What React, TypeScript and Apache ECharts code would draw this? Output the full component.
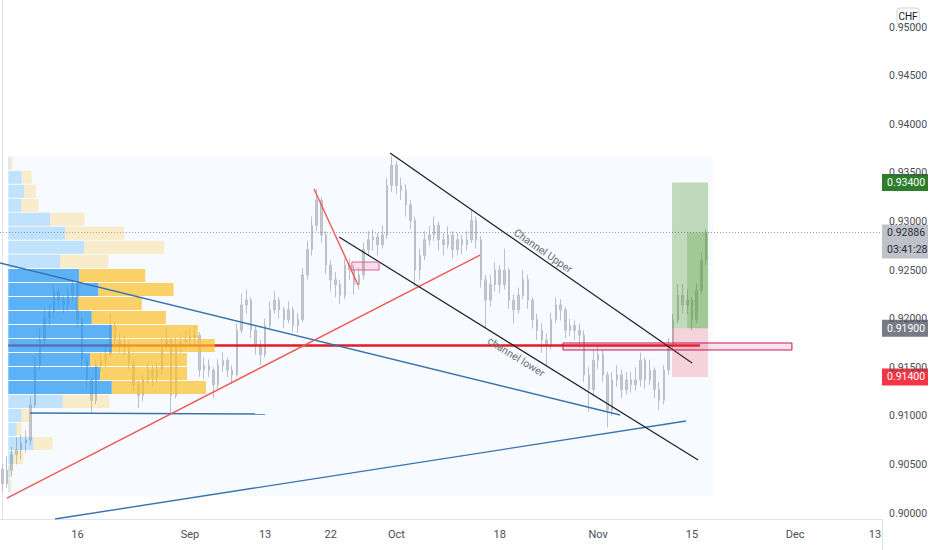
import React, { useEffect, useRef } from "react";
import * as echarts from "echarts";

// ---------- data ----------
const slotCount = 188; // half-day slots across the visible time range
const xTickSlots = [16, 40, 56, 70, 84, 106, 127, 147, 169, 186];
const xTickLabels = ["16", "Sep", "13", "22", "Oct", "18", "Nov", "15", "Dec", "13"];

// [open, close, low, high]
const ohlc: number[][] = [
  [0.9045, 0.903, 0.9021, 0.905], [0.903, 0.9044, 0.9026, 0.9058], [0.9044, 0.906, 0.9038, 0.9068],
  [0.906, 0.9065, 0.905, 0.9078], [0.9065, 0.9072, 0.9055, 0.908], [0.9072, 0.9075, 0.9062, 0.9085],
  [0.9075, 0.9111, 0.907, 0.912], [0.9111, 0.9152, 0.9108, 0.916], [0.9152, 0.9178, 0.9148, 0.919],
  [0.9178, 0.9201, 0.9172, 0.921], [0.9201, 0.9207, 0.9192, 0.9215], [0.9207, 0.9227, 0.92, 0.9235],
  [0.9227, 0.9219, 0.921, 0.9232], [0.9219, 0.9214, 0.9205, 0.9224], [0.9214, 0.9224, 0.9208, 0.9232],
  [0.9224, 0.9235, 0.9218, 0.924], [0.9235, 0.9199, 0.919, 0.9238], [0.9199, 0.9157, 0.915, 0.9202],
  [0.9157, 0.9137, 0.9128, 0.9162], [0.9137, 0.9116, 0.9103, 0.914], [0.9116, 0.9152, 0.9112, 0.9158],
  [0.9152, 0.9157, 0.9145, 0.9165], [0.9157, 0.9163, 0.915, 0.9172], [0.9163, 0.9193, 0.916, 0.9205],
  [0.9193, 0.9178, 0.917, 0.9196], [0.9178, 0.9173, 0.9165, 0.9185], [0.9173, 0.917, 0.9163, 0.9182],
  [0.917, 0.9155, 0.9148, 0.9176], [0.9155, 0.9132, 0.9125, 0.9158], [0.9132, 0.9121, 0.9108, 0.9136],
  [0.9121, 0.9137, 0.9115, 0.9142], [0.9137, 0.9147, 0.9132, 0.9155], [0.9147, 0.9139, 0.913, 0.9152],
  [0.9139, 0.9147, 0.9135, 0.9155], [0.9147, 0.9173, 0.9142, 0.918], [0.9173, 0.9178, 0.9168, 0.919],
  [0.9178, 0.9121, 0.9103, 0.918], [0.9121, 0.9173, 0.9118, 0.918], [0.9173, 0.9176, 0.9165, 0.9183],
  [0.9176, 0.9178, 0.9168, 0.9188], [0.9178, 0.9181, 0.917, 0.919], [0.9181, 0.9183, 0.9172, 0.9193],
  [0.9183, 0.9147, 0.914, 0.9186], [0.9147, 0.9152, 0.9138, 0.916], [0.9152, 0.9147, 0.914, 0.9158],
  [0.9147, 0.9132, 0.9118, 0.915], [0.9132, 0.9152, 0.9128, 0.9158], [0.9152, 0.9157, 0.9145, 0.9166],
  [0.9157, 0.9147, 0.914, 0.916], [0.9147, 0.9142, 0.9133, 0.9152], [0.9142, 0.9188, 0.914, 0.9195],
  [0.9188, 0.9214, 0.9185, 0.9226], [0.9214, 0.9219, 0.9205, 0.923], [0.9219, 0.9188, 0.918, 0.9222],
  [0.9188, 0.9173, 0.9163, 0.9192], [0.9173, 0.9163, 0.9152, 0.9178], [0.9163, 0.9193, 0.916, 0.92],
  [0.9193, 0.9209, 0.919, 0.9218], [0.9209, 0.9219, 0.9205, 0.9228], [0.9219, 0.9209, 0.92, 0.9222],
  [0.9209, 0.9199, 0.919, 0.9212], [0.9199, 0.9209, 0.9195, 0.9218], [0.9209, 0.9193, 0.9186, 0.9212],
  [0.9193, 0.9199, 0.9185, 0.9206], [0.9199, 0.9245, 0.9196, 0.9252], [0.9245, 0.9271, 0.924, 0.928],
  [0.9271, 0.9296, 0.9265, 0.9305], [0.9296, 0.9322, 0.929, 0.9333], [0.9322, 0.9286, 0.9278, 0.9325],
  [0.9286, 0.9255, 0.9246, 0.929], [0.9255, 0.924, 0.9228, 0.926], [0.924, 0.9235, 0.9222, 0.9248],
  [0.9235, 0.9224, 0.9215, 0.924], [0.9224, 0.9255, 0.922, 0.9262], [0.9255, 0.925, 0.924, 0.9262],
  [0.925, 0.9235, 0.9225, 0.9255], [0.9235, 0.9245, 0.923, 0.9252], [0.9245, 0.9271, 0.924, 0.9278],
  [0.9271, 0.9281, 0.9265, 0.929], [0.9281, 0.9284, 0.927, 0.9292], [0.9284, 0.9276, 0.9265, 0.9288],
  [0.9276, 0.9286, 0.9272, 0.9296], [0.9286, 0.9337, 0.9282, 0.9345], [0.9337, 0.9358, 0.933, 0.9367],
  [0.9358, 0.9337, 0.9328, 0.9362], [0.9337, 0.9332, 0.9322, 0.9345], [0.9332, 0.9317, 0.9305, 0.9338],
  [0.9317, 0.9301, 0.9292, 0.9322], [0.9301, 0.925, 0.9233, 0.9305], [0.925, 0.9265, 0.924, 0.9272],
  [0.9265, 0.9281, 0.926, 0.929], [0.9281, 0.9286, 0.9275, 0.9295], [0.9286, 0.9296, 0.928, 0.9305],
  [0.9296, 0.9281, 0.927, 0.93], [0.9281, 0.9276, 0.9265, 0.9288], [0.9276, 0.9286, 0.9272, 0.9295],
  [0.9286, 0.9271, 0.9262, 0.929], [0.9271, 0.9281, 0.9265, 0.9288], [0.9281, 0.9276, 0.9266, 0.9286],
  [0.9276, 0.9281, 0.927, 0.929], [0.9281, 0.9301, 0.9278, 0.9312], [0.9301, 0.9281, 0.9272, 0.9305],
  [0.9281, 0.924, 0.9232, 0.9285], [0.924, 0.9219, 0.919, 0.9245], [0.9219, 0.9235, 0.9212, 0.9245],
  [0.9235, 0.925, 0.9228, 0.9258], [0.925, 0.9235, 0.9226, 0.9255], [0.9235, 0.925, 0.923, 0.9272],
  [0.925, 0.9219, 0.921, 0.9252], [0.9219, 0.9209, 0.9195, 0.9225], [0.9209, 0.9224, 0.9205, 0.9232],
  [0.9224, 0.924, 0.922, 0.925], [0.924, 0.9219, 0.921, 0.9245], [0.9219, 0.9199, 0.919, 0.9222],
  [0.9199, 0.9188, 0.9178, 0.9205], [0.9188, 0.9178, 0.9165, 0.9195], [0.9178, 0.9173, 0.9152, 0.9185],
  [0.9173, 0.9199, 0.9168, 0.9206], [0.9199, 0.9214, 0.9195, 0.9222], [0.9214, 0.9209, 0.9198, 0.922],
  [0.9209, 0.9188, 0.918, 0.9212], [0.9188, 0.9193, 0.9182, 0.92], [0.9193, 0.9188, 0.9178, 0.9198],
  [0.9188, 0.9183, 0.917, 0.9195], [0.9183, 0.9142, 0.9135, 0.9188], [0.9142, 0.9127, 0.9104, 0.915],
  [0.9127, 0.9157, 0.912, 0.9168], [0.9157, 0.9163, 0.9148, 0.9172], [0.9163, 0.9142, 0.9135, 0.9168],
  [0.9142, 0.9106, 0.9088, 0.9145], [0.9106, 0.9137, 0.91, 0.9145], [0.9137, 0.9142, 0.913, 0.9152],
  [0.9142, 0.9127, 0.9118, 0.9148], [0.9127, 0.9137, 0.9122, 0.9145], [0.9137, 0.9132, 0.9124, 0.9145],
  [0.9132, 0.9137, 0.9126, 0.915], [0.9137, 0.9157, 0.913, 0.9165], [0.9157, 0.9137, 0.9128, 0.916],
  [0.9137, 0.9147, 0.9132, 0.9158], [0.9147, 0.9127, 0.9118, 0.915], [0.9127, 0.9116, 0.9106, 0.9135],
  [0.9116, 0.9147, 0.9112, 0.9152], [0.9147, 0.9173, 0.9142, 0.918], [0.9173, 0.9199, 0.9168, 0.9205],
  [0.9199, 0.9224, 0.9195, 0.9236], [0.9224, 0.9214, 0.9205, 0.9236], [0.9214, 0.9219, 0.9205, 0.923],
  [0.9219, 0.9199, 0.9188, 0.9222], [0.9199, 0.9229, 0.9195, 0.9236], [0.9229, 0.926, 0.9225, 0.9268],
  [0.926, 0.92886, 0.9255, 0.9292],
];

// volume profile rows, listed from the top (highest price) row to the bottom row
const profileUp = [1, 13.3, 15.7, 12.7, 41.7, 56.7, 75.7, 51.7, 70.7, 90, 69.3, 83.3, 103.3, 103.3, 81.7, 91.7, 103.3, 54.3, 13.3, 8.3, 25, 5, 2, 1];
const profileDown = [3.3, 10, 11.7, 17.3, 34.3, 59, 80, 48.3, 66, 75, 64, 74, 86, 102.7, 96.7, 86.7, 94, 46.7, 8.3, 5, 19.3, 10, 2, 2];
const valueAreaRows = [8, 9, 10, 11, 12, 13, 14, 15, 16];

// long position tool
const longEntry = 0.919;
const longTarget = 0.934;
const longStop = 0.914;
const countdown = "03:41:28";

// drawings in [slot, price]
const trendLines = [
  { a: [-0.5, 0.92572], b: [131.67, 0.910082], kind: "blue" },
  { a: [5.9, 0.910288], b: [56.0, 0.910185], kind: "blue" },
  { a: [11.22, 0.899383], b: [145.74, 0.909465], kind: "blue" },
  { a: [0.99, 0.901543], b: [101.82, 0.926543], kind: "red" },
  { a: [66.44, 0.933333], b: [75.82, 0.923457], kind: "red" },
  { a: [82.64, 0.937037], b: [147.02, 0.915432], kind: "black" },
  { a: [71.77, 0.928395], b: [148.3, 0.905453], kind: "black" },
];
const boxes = [
  { a: [142.75, longEntry], b: [150.43, longTarget], fill: "rgba(76,150,40,0.32)", stroke: "none" },
  { a: [145.95, longEntry], b: [150.43, 0.92886], fill: "rgba(76,150,40,0.25)", stroke: "none" },
  { a: [142.75, longStop], b: [150.43, longEntry], fill: "rgba(242,54,69,0.2)", stroke: "none" },
  { a: [74.5, 0.925], b: [80.3, 0.92582], fill: "rgba(233,30,99,0.12)", stroke: "#e0608f" },
  { a: [119.5, 0.91677], b: [168.3, 0.91749], fill: "rgba(233,30,99,0.12)", stroke: "#c2185b" },
];

const lineColors: Record<string, string> = { blue: "#3a72b0", red: "#ef5a57", black: "#1e1e1e" };

const App = () => {
  const ref = useRef<HTMLDivElement>(null);
  useEffect(() => {
    const chart = echarts.init(ref.current!, null, { renderer: "svg" });
    const font = "Roboto, 'Noto Sans', sans-serif";
    const profHigh = Math.max(...ohlc.map((d) => d[3]));
    const profLow = Math.min(...ohlc.map((d) => d[2]));
    const rowH = (profHigh - profLow) / profileUp.length;
    const totals = profileUp.map((u, i) => u + profileDown[i]);
    const maxTotal = Math.max(...totals);
    const pocRow = totals.indexOf(maxTotal);
    const pocPrice = profHigh - (pocRow + 0.5) * rowH;
    const profStart = 1.27;
    const lastSlot = ohlc.length - 1;
    const lastClose = ohlc[lastSlot][1];

    const lineSeries = trendLines.map((l) => ({
      type: "line",
      xAxisIndex: 1,
      yAxisIndex: 0,
      data: [l.a, l.b],
      symbol: "none",
      silent: true,
      z: 6,
      lineStyle: { color: lineColors[l.kind], width: l.kind === "black" ? 1.2 : 1.4 },
    }));

    const option: any = {
      animation: false,
      textStyle: { fontFamily: font },
      grid: { left: 0, right: 50, top: 0, bottom: 31 },
      xAxis: [
        {
          type: "category",
          data: Array.from({ length: slotCount }, (_, i) => String(i)),
          boundaryGap: true,
          axisLine: { lineStyle: { color: "#e0e3eb" } },
          axisTick: { show: false },
          splitLine: { show: false },
          axisLabel: {
            interval: (idx: number) => xTickSlots.indexOf(idx) >= 0,
            formatter: (_v: string, idx: number) => {
              const k = xTickSlots.indexOf(idx);
              return k >= 0 ? xTickLabels[k] : "";
            },
            color: "#4a4e5a",
            fontSize: 11,
            margin: 10,
            fontFamily: font,
          },
        },
        { type: "value", min: -0.5, max: slotCount - 0.5, show: false },
      ],
      yAxis: [
        {
          type: "value",
          position: "right",
          min: 0.899383,
          max: 0.952778,
          splitNumber: 10,
          splitLine: { show: false },
          axisLine: { show: true, lineStyle: { color: "#e0e3eb" } },
          axisTick: { show: false },
          axisLabel: {
            showMinLabel: false,
            showMaxLabel: false,
            formatter: (v: number) => v.toFixed(5),
            color: "#4a4e5a",
            fontSize: 10.5,
            margin: 7,
            fontFamily: font,
          },
        },
      ],
      series: [
        {
          type: "custom",
          xAxisIndex: 1,
          yAxisIndex: 0,
          z: 0,
          silent: true,
          data: [[profStart, profLow, lastSlot + 1.5, profHigh]],
          renderItem: (params: any, api: any) => {
            const p1 = api.coord([api.value(0), api.value(3)]);
            const p2 = api.coord([api.value(2), api.value(1)]);
            return { type: "rect", shape: { x: p1[0], y: p1[1], width: p2[0] - p1[0], height: p2[1] - p1[1] + 4 }, style: { fill: "rgba(33,150,243,0.035)" } };
          },
        },
        {
          type: "candlestick",
          xAxisIndex: 0,
          yAxisIndex: 0,
          data: ohlc,
          barWidth: 2,
          z: 1,
          silent: true,
          itemStyle: { color: "#c6c9cf", color0: "#c6c9cf", borderColor: "#bcbfc6", borderColor0: "#bcbfc6", borderWidth: 1 },
        },
        {
          type: "line",
          xAxisIndex: 1,
          yAxisIndex: 0,
          data: [[-0.5, lastClose], [slotCount - 0.5, lastClose]],
          symbol: "none",
          silent: true,
          z: 2,
          lineStyle: { color: "#9598a1", width: 1, type: [1, 2] },
        },
        {
          type: "line",
          xAxisIndex: 1,
          yAxisIndex: 0,
          data: [[profStart, pocPrice], [148.7, pocPrice]],
          symbol: "none",
          silent: true,
          z: 3,
          lineStyle: { color: "#e31b23", width: 2.6 },
        },
        {
          type: "custom",
          xAxisIndex: 1,
          yAxisIndex: 0,
          z: 4,
          silent: true,
          data: profileUp.map((_, i) => [profStart, profHigh - i * rowH]),
          renderItem: (params: any, api: any) => {
            const k = params.dataIndex;
            const top = api.coord([profStart, profHigh - k * rowH]);
            const bot = api.coord([profStart, profHigh - (k + 1) * rowH]);
            const pxPerVol = (params.coordSys.width * 0.234) / maxTotal;
            const inVA = valueAreaRows.indexOf(k) >= 0;
            const upW = profileUp[k] * pxPerVol;
            const dnW = profileDown[k] * pxPerVol;
            const y = top[1] + 0.5;
            const h = bot[1] - top[1] - 1;
            return {
              type: "group",
              children: [
                { type: "rect", shape: { x: top[0], y, width: upW, height: h }, style: { fill: inVA ? "rgba(33,150,243,0.72)" : "rgba(33,150,243,0.25)" } },
                { type: "rect", shape: { x: top[0] + upW, y, width: dnW, height: h }, style: { fill: inVA ? "rgba(251,192,45,0.72)" : "rgba(251,192,45,0.25)" } },
              ],
            };
          },
        },
        ...lineSeries,
        {
          type: "custom",
          xAxisIndex: 1,
          yAxisIndex: 0,
          z: 7,
          silent: true,
          data: boxes.map((b) => [b.a[0], b.a[1], b.b[0], b.b[1]]),
          renderItem: (params: any, api: any) => {
            const bx = boxes[params.dataIndex];
            const p1 = api.coord([api.value(0), api.value(1)]);
            const p2 = api.coord([api.value(2), api.value(3)]);
            const x = Math.min(p1[0], p2[0]);
            const y = Math.min(p1[1], p2[1]);
            return {
              type: "rect",
              shape: { x, y, width: Math.abs(p2[0] - p1[0]), height: Math.abs(p2[1] - p1[1]) },
              style: { fill: bx.fill, stroke: bx.stroke, lineWidth: bx.stroke === "none" ? 0 : 1 },
            };
          },
        },
      ],
    };
    chart.setOption(option);

    const yPx = (p: number) => chart.convertToPixel({ yAxisIndex: 0 }, p) as number;
    const pt = (s: number, p: number) => [chart.convertToPixel({ xAxisIndex: 1 }, s) as number, yPx(p)];
    const axisX = 882;

    const tag = (price: number, fill: string, color: string) => ({
      type: "group",
      z: 100,
      children: [
        { type: "rect", shape: { x: axisX, y: yPx(price) - 8.5, width: 46, height: 17 }, style: { fill } },
        { type: "text", x: axisX + 5, y: yPx(price), style: { text: price.toFixed(5), fill: color, fontSize: 10.5, fontFamily: font, verticalAlign: "middle", align: "left" } },
      ],
    });

    const upper = trendLines[5];
    const lower = trendLines[6];
    const ang = (l: any) => {
      const a = pt(l.a[0], l.a[1]);
      const b = pt(l.b[0], l.b[1]);
      return Math.atan2(-(b[1] - a[1]), b[0] - a[0]);
    };
    const upPos = pt(115.25, 0.926955);
    const loPos = pt(109.5, 0.916049);

    chart.setOption({
      graphic: [
        { type: "line", z: 100, shape: { x1: axisX + 0.5, y1: 519, x2: axisX + 0.5, y2: 550 }, style: { stroke: "#e0e3eb", lineWidth: 1 } },
        { type: "text", z: 100, x: upPos[0], y: upPos[1], rotation: ang(upper), style: { text: "Channel Upper", fill: "#6a6d78", fontSize: 10.5, fontFamily: font, align: "center", verticalAlign: "middle" } },
        { type: "text", z: 100, x: loPos[0], y: loPos[1], rotation: ang(lower), style: { text: "channel lower", fill: "#6a6d78", fontSize: 10.5, fontFamily: font, align: "center", verticalAlign: "middle" } },
        tag(longTarget, "#2e7d2a", "#ffffff"),
        tag(longEntry, "#787b86", "#ffffff"),
        tag(longStop, "#f23645", "#ffffff"),
        {
          type: "group",
          z: 100,
          children: [
            { type: "rect", shape: { x: axisX, y: yPx(lastClose) - 8, width: 46, height: 34 }, style: { fill: "#bfc2c9" } },
            { type: "text", x: axisX + 5, y: yPx(lastClose), style: { text: lastClose.toFixed(5), fill: "#2a2e39", fontSize: 10.5, fontFamily: font, verticalAlign: "middle" } },
            { type: "text", x: axisX + 5, y: yPx(lastClose) + 17, style: { text: countdown, fill: "#2a2e39", fontSize: 10.5, fontFamily: font, verticalAlign: "middle" } },
          ],
        },
        {
          type: "group",
          z: 100,
          children: [
            { type: "rect", shape: { x: 897, y: 8, width: 22, height: 17, r: 3 }, style: { fill: "#ffffff", stroke: "#d1d4dc", lineWidth: 1 } },
            { type: "text", x: 908, y: 16.5, style: { text: "CHF", fill: "#131722", fontSize: 10, fontFamily: font, align: "center", verticalAlign: "middle" } },
          ],
        },
      ],
    });

    return () => chart.dispose();
  }, []);
  return <div ref={ref} style={{ position: "fixed", left: 0, top: 0, width: 932, height: 550, background: "#ffffff" }} />;
};

export default App;
